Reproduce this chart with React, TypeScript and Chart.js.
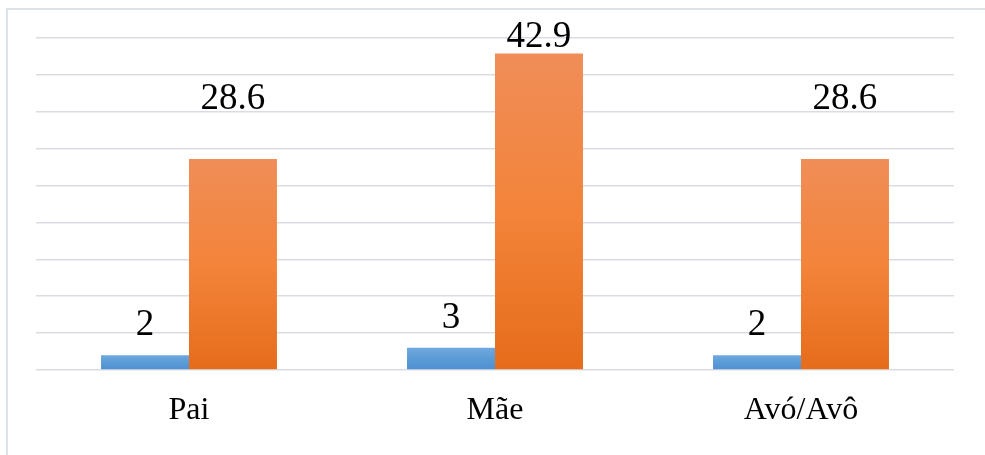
import React, { useEffect, useRef } from "react";
import { Chart, registerables } from "chart.js";

Chart.register(...registerables);

const categories = ["Pai", "Mãe", "Avó/Avô"];
const countValues = [2, 3, 2];
const percentValues = [28.6, 42.9, 28.6];
const yMin = 0;
const yMax = 45;
const yStep = 5;

// label gaps (px) between bar top and label baseline, per series
const countLabelGaps = [20, 20, 20];
const percentLabelGaps = [50, 6, 50];

const FONT = "Liberation Serif, Times New Roman, serif";

function gradientFill(ctx: any, top: string, middle: string, bottom: string, fallback: string) {
  const chart = ctx.chart;
  const y = chart.scales && chart.scales.y;
  if (!chart.chartArea || !y || ctx.parsed == null) return fallback;
  const yTop = y.getPixelForValue(ctx.parsed.y);
  const yBot = y.getPixelForValue(0);
  if (!isFinite(yTop) || !isFinite(yBot) || yTop === yBot) return fallback;
  const g = chart.ctx.createLinearGradient(0, yTop, 0, yBot);
  g.addColorStop(0, top);
  g.addColorStop(0.5, middle);
  g.addColorStop(1, bottom);
  return g;
}

const labelPlugin = {
  id: "barLabels",
  afterDatasetsDraw(chart: any) {
    const ctx = chart.ctx;
    const gaps = [countLabelGaps, percentLabelGaps];
    ctx.save();
    ctx.font = `37px ${FONT}`;
    ctx.fillStyle = "#000000";
    ctx.textAlign = "center";
    ctx.textBaseline = "alphabetic";
    chart.data.datasets.forEach((ds: any, di: number) => {
      const meta = chart.getDatasetMeta(di);
      meta.data.forEach((bar: any, i: number) => {
        ctx.fillText(String(ds.data[i]), bar.x, bar.y - gaps[di][i]);
      });
    });
    ctx.restore();
  },
};

export default function App() {
  const ref = useRef<HTMLCanvasElement | null>(null);

  useEffect(() => {
    if (!ref.current) return;
    const chart = new Chart(ref.current, {
      type: "bar",
      data: {
        labels: categories,
        datasets: [
          {
            label: "Nº",
            data: countValues,
            backgroundColor: (c: any) => gradientFill(c, "#6FA8DF", "#5B9BD5", "#4F8FD2", "#5B9BD5"),
            borderWidth: 0,
          },
          {
            label: "%",
            data: percentValues,
            backgroundColor: (c: any) => gradientFill(c, "#F08D58", "#F3843A", "#E66C1B", "#ED7D31"),
            borderWidth: 0,
          },
        ],
      },
      options: {
        animation: false,
        responsive: false,
        maintainAspectRatio: false,
        layout: { padding: { left: 36, right: 31, top: 38, bottom: 0 } },
        plugins: {
          legend: { display: false },
          tooltip: { enabled: false },
        },
        datasets: {
          bar: { categoryPercentage: 0.575, barPercentage: 1 },
        },
        scales: {
          x: {
            grid: { display: false, drawTicks: false },
            border: { display: false },
            ticks: {
              color: "#000000",
              font: { family: FONT, size: 32 },
              padding: 21,
              maxRotation: 0,
            },
            afterFit(scale: any) {
              scale.height = 85;
            },
          },
          y: {
            min: yMin,
            max: yMax,
            ticks: { display: false, stepSize: yStep },
            grid: { color: "#D9DDE3", lineWidth: 1.5, drawTicks: false },
            border: { display: false },
            afterFit(scale: any) {
              scale.width = 0;
            },
          },
        },
      },
      plugins: [labelPlugin],
    });
    return () => chart.destroy();
  }, []);

  return (
    <div
      style={{
        position: "fixed",
        left: 0,
        top: 0,
        width: 985,
        height: 455,
        background: "#ffffff",
      }}
    >
      <div
        style={{
          position: "absolute",
          left: 6,
          top: 8,
          width: 1000,
          height: 500,
          borderLeft: "2px solid #DEE2E6",
          borderTop: "2px solid #DEE2E6",
          boxSizing: "border-box",
        }}
      />
      <canvas
        ref={ref}
        width={985}
        height={455}
        style={{ position: "absolute", left: 0, top: 0, width: 985, height: 455 }}
      />
    </div>
  );
}
